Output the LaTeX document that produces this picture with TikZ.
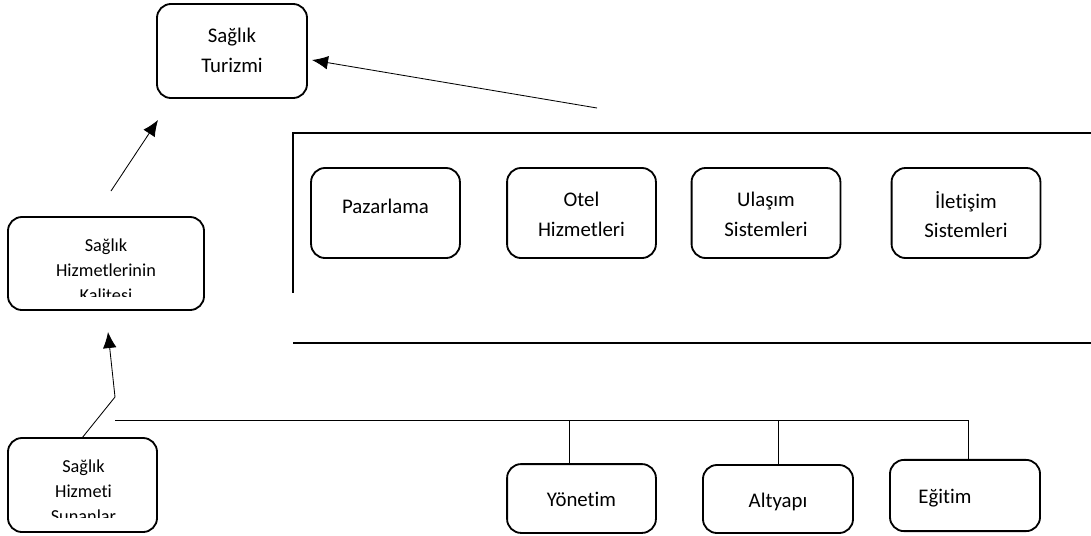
\documentclass[tikz,border=0pt]{standalone}
\usepackage{fontspec}
\setmainfont{Carlito}[Ligatures=NoCommon]
\usetikzlibrary{arrows.meta}

\tikzset{
  box/.style={draw, line width=1.3pt, rounded corners=0.35cm, inner sep=0pt},
  bigtxt/.style={font=\fontsize{14.8}{21}\selectfont, align=center, inner sep=0pt, anchor=north, execute at begin node=\strut},
  smalltxt/.style={font=\fontsize{13}{17.5}\selectfont, align=center, inner sep=0pt, anchor=north, execute at begin node=\strut},
  link/.style={line width=0.6pt},
  tip/.style={link, -{Latex[length=0.4cm,width=0.34cm]}},
  frame/.style={line width=0.8pt}
}

\begin{document}
\begin{tikzpicture}[x=0.025cm, y=-0.025cm]
  \useasboundingbox (0,0) rectangle (1091,535);

  % top box
  \node[box, minimum width=3.75cm, minimum height=2.35cm] (turizm) at (232,51) {};
  \node[bigtxt] (turizmtxt) at (232,28) {Sağlık\\Turizmi};

  % left column
  \node[box, minimum width=4.9cm, minimum height=2.325cm] (kalite) at (106,263.5) {};
  \begin{scope}
    \clip (8,217) rectangle (204,296);
    \node[smalltxt] (kalitetxt) at (106,239) {Sağlık\\Hizmetlerinin\\Kalitesi};
  \end{scope}
  \node[box, minimum width=3.725cm, minimum height=2.35cm] (sunan) at (82.5,485) {};
  \begin{scope}
    \clip (8,438) rectangle (157,517);
    \node[smalltxt] (sunantxt) at (83.5,460) {Sağlık\\Hizmeti\\Sunanlar};
  \end{scope}

  % frame round the four boxes
  \draw[frame] (1091,133) -- (293,133) -- (293,293);
  \draw[frame] (293,343) -- (1091,343);

  \node[box, minimum width=3.72cm, minimum height=2.25cm] (pazar) at (385.5,213) {};
  \node[bigtxt] (pazartxt) at (385.5,193) {Pazarlama};
  \node[box, minimum width=3.72cm, minimum height=2.25cm] (otel) at (581.5,213) {};
  \node[bigtxt] (oteltxt) at (581.5,192) {Otel\\Hizmetleri};
  \node[box, minimum width=3.72cm, minimum height=2.25cm] (ulasim) at (766,213) {};
  \node[bigtxt] (ulasimtxt) at (766,192) {Ulaşım\\Sistemleri};
  \node[box, minimum width=3.72cm, minimum height=2.25cm] (iletisim) at (966,213) {};
  \node[bigtxt] (iletisimtxt) at (966,191) {İletişim\\Sistemleri};

  % bottom row
  \node[box, minimum width=3.72cm, minimum height=1.72cm] (yonetim) at (581.5,498.5) {};
  \node[bigtxt] (yonetimtxt) at (581.5,486) {Yönetim};
  \node[box, minimum width=3.75cm, minimum height=1.7cm] (altyapi) at (778,499) {};
  \node[bigtxt] (altyapitxt) at (778,487) {Altyapı};
  \node[box, minimum width=3.75cm, minimum height=1.78cm] (egitim) at (965,495.5) {};
  \node[bigtxt] (egitimtxt) at (945,483) {Eğitim};

  % connectors
  \coordinate (tzin) at (312,60);
  \coordinate (tzfrom) at (597,108);
  \coordinate (tzlow) at (158,120);
  \coordinate (kup) at (111,191);
  \coordinate (sun) at (82,438);
  \coordinate (bend) at (115,397);
  \coordinate (kdown) at (108,332);
  \coordinate (hl) at (115,420);
  \coordinate (jy) at (569,420);
  \coordinate (ja) at (778,420);
  \coordinate (je) at (968,420);

  \draw[tip] (tzfrom) -- (tzin);
  \draw[tip] (kup) -- (tzlow);
  \draw[tip] (sun) -- (bend) -- (kdown);
  \draw[link] (hl) -- (je);
  \draw[link] (jy) -- (jy |- yonetim.north);
  \draw[link] (ja) -- (ja |- altyapi.north);
  \draw[link] (je) -- (je |- egitim.north);
\end{tikzpicture}
\end{document}
